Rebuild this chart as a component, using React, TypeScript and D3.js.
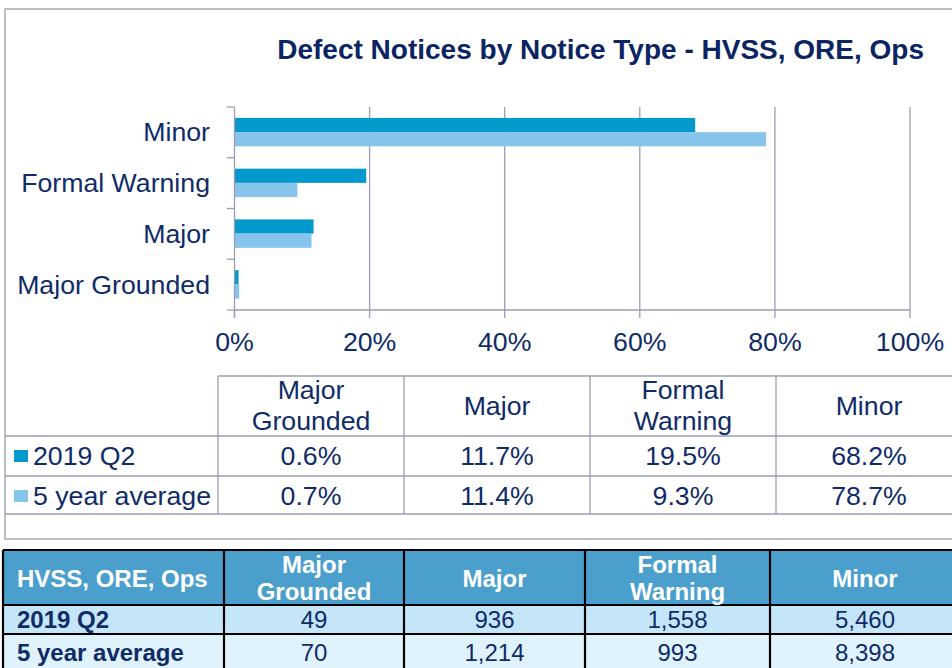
import React from 'react';
import * as d3 from 'd3';

const categories = ['Minor', 'Formal Warning', 'Major', 'Major Grounded'];
const tableColumns = ['Major Grounded', 'Major', 'Formal Warning', 'Minor'];
const seriesNames = ['2019 Q2', '5 year average'];
const q2Share = [0.6, 11.7, 19.5, 68.2];       // per tableColumns
const avgShare = [0.7, 11.4, 9.3, 78.7];
const q2Counts = [49, 936, 1558, 5460];
const avgCounts = [70, 1214, 993, 8398];
const xTicks = [0, 20, 40, 60, 80, 100];

const NAVY = '#0f2c68';
const GRID = '#9d9db2';
const DARK = '#0399cc';
const LIGHT = '#86c4ec';
const FONT = '"Liberation Sans", Arial, sans-serif';
const FS = 26.7;

const colWrap: Record<string, string[]> = {
  'Major Grounded': ['Major', 'Grounded'],
  'Major': ['Major'],
  'Formal Warning': ['Formal', 'Warning'],
  'Minor': ['Minor'],
};

export default function App() {
  const x = d3.scaleLinear().domain([0, 100]).range([234.5, 910]);
  const y = d3.scaleBand<string>().domain(categories).range([107, 310]);
  const inner = d3.scaleBand<string>().domain(seriesNames)
    .range([y.bandwidth() * 0.215, y.bandwidth() * 0.775]);
  const seriesColors = [DARK, LIGHT];
  const shareOf = (s: number, cat: string) => {
    const i = tableColumns.indexOf(cat);
    return s === 0 ? q2Share[i] : avgShare[i];
  };

  // data table inside chart
  const dtCol = d3.scaleBand<string>().domain(tableColumns).range([218, 962]);
  const dtTop = 376, dtHead = 436, dtRow = 476, dtBot = 514;
  const rowsY = [dtHead, dtRow];
  const shares = [q2Share, avgShare];

  // lower table
  const ltCols = ['HVSS, ORE, Ops', ...tableColumns];
  const ltX = [3, 224, 404, 585, 770, 960];
  const ltTop = 550, ltHead = 605, ltR1 = 634, ltBot = 672;
  const counts = [q2Counts, avgCounts];
  const fmt = d3.format(',');

  return (
    <div style={{ position: 'absolute', left: 0, top: 0 }}>
      <svg width={952} height={668} style={{ display: 'block', fontFamily: FONT }}>
        <rect width={952} height={668} fill="#fff" />
        {/* chart frame */}
        <rect x={5} y={9} width={960} height={530} fill="none" stroke="#a8a8b0" strokeWidth={1.5} />
        <text x={924} y={59} textAnchor="end" fontSize={28} fontWeight="bold" fill="#0b2463">
          Defect Notices by Notice Type - HVSS, ORE, Ops
        </text>

        {/* grid */}
        {xTicks.map(t => (
          <g key={t}>
            {t > 0 && <line x1={x(t)} x2={x(t)} y1={107} y2={310} stroke={GRID} strokeWidth={1.3} />}
            <line x1={x(t)} x2={x(t)} y1={310} y2={318} stroke={GRID} strokeWidth={1.3} />
            <text x={x(t)} y={351} textAnchor="middle" fontSize={FS} fill={NAVY}>{t}%</text>
          </g>
        ))}

        {/* bars */}
        {categories.map(cat => (
          <g key={cat} transform={`translate(0,${y(cat)})`}>
            {seriesNames.map((s, si) => (
              <rect key={s} x={x(0)} y={inner(s)} width={x(shareOf(si, cat)) - x(0)}
                height={inner.bandwidth()} fill={seriesColors[si]} />
            ))}
            <text x={210} y={y.bandwidth() / 2 + 9} textAnchor="end" fontSize={FS} fill={NAVY}>{cat}</text>
          </g>
        ))}

        {/* axes */}
        <line x1={x(0)} x2={x(0)} y1={107} y2={318} stroke={GRID} strokeWidth={1.3} />
        <line x1={x(0)} x2={x(100)} y1={310} y2={310} stroke={GRID} strokeWidth={1.3} />
        {[...categories.map(c => y(c) as number), 310].map((v, i) => (
          <line key={i} x1={227} x2={x(0)} y1={v} y2={v} stroke={GRID} strokeWidth={1.3} />
        ))}

        {/* data table */}
        <g stroke={GRID} strokeWidth={1.3}>
          <line x1={218} x2={960} y1={dtTop} y2={dtTop} />
          {[dtHead, dtRow, dtBot].map(v => <line key={v} x1={5} x2={960} y1={v} y2={v} />)}
          {tableColumns.map(c => (
            <line key={c} x1={dtCol(c)} x2={dtCol(c)} y1={dtTop} y2={dtBot} />
          ))}
        </g>
        {tableColumns.map(c => {
          const cx = (dtCol(c) as number) + dtCol.bandwidth() / 2;
          const lines = colWrap[c];
          return (
            <g key={c}>
              {lines.map((l, li) => (
                <text key={li} x={cx} textAnchor="middle" fontSize={FS} fill={NAVY}
                  y={lines.length === 1 ? 415 : 399 + li * 31}>{l}</text>
              ))}
              {shares.map((arr, si) => (
                <text key={si} x={cx} y={rowsY[si] + 29} textAnchor="middle" fontSize={FS} fill={NAVY}>
                  {arr[tableColumns.indexOf(c)].toFixed(1)}%
                </text>
              ))}
            </g>
          );
        })}
        {seriesNames.map((s, si) => (
          <g key={s}>
            <rect x={14} y={rowsY[si] + 14} width={14} height={12} fill={seriesColors[si]} />
            <text x={33} y={rowsY[si] + 29} fontSize={FS} fill={NAVY}>{s}</text>
          </g>
        ))}

        {/* lower table */}
        <rect x={ltX[0]} y={ltTop} width={ltX[5] - ltX[0]} height={ltHead - ltTop} fill="#4b9fcd" />
        <rect x={ltX[0]} y={ltHead} width={ltX[5] - ltX[0]} height={ltR1 - ltHead} fill="#c5e6f8" />
        <rect x={ltX[0]} y={ltR1} width={ltX[5] - ltX[0]} height={ltBot - ltR1} fill="#e0f2fc" />
        <g stroke="#000" strokeWidth={2.2}>
          {[ltTop, ltHead, ltR1].map(v => <line key={v} x1={ltX[0]} x2={960} y1={v} y2={v} />)}
          {ltX.slice(0, 5).map(v => <line key={v} x1={v} x2={v} y1={ltTop} y2={ltBot} />)}
        </g>
        {ltCols.map((c, ci) => {
          const cx = (ltX[ci] + ltX[ci + 1]) / 2;
          const lines = ci === 0 ? [c] : colWrap[c];
          return lines.map((l, li) => (
            <text key={c + li} x={ci === 0 ? 17 : cx} textAnchor={ci === 0 ? 'start' : 'middle'}
              fontSize={24} fontWeight="bold" fill="#fff"
              y={lines.length === 1 ? 587 : 573 + li * 27}>{l}</text>
          ));
        })}
        {seriesNames.map((s, si) => {
          const base = si === 0 ? ltHead + 23 : ltR1 + 27;
          return (
            <g key={s}>
              <text x={17} y={base} fontSize={24} fontWeight="bold" fill={NAVY}>{s}</text>
              {counts[si].map((v, ci) => (
                <text key={ci} x={(ltX[ci + 1] + ltX[ci + 2]) / 2} y={base} textAnchor="middle"
                  fontSize={24} fill={NAVY}>{fmt(v)}</text>
              ))}
            </g>
          );
        })}
      </svg>
    </div>
  );
}
